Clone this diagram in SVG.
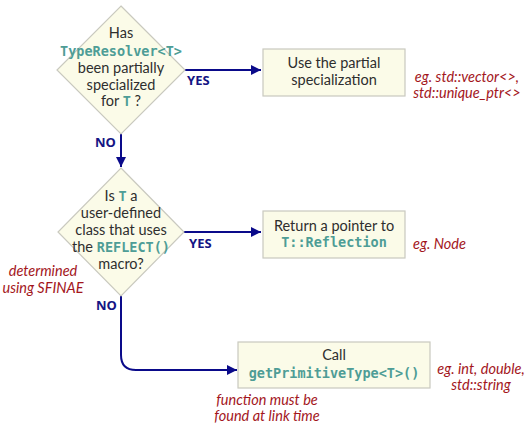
<svg xmlns="http://www.w3.org/2000/svg" width="528" height="430" viewBox="0 0 528 430">
<style>
.shape{fill:#fbfbe8;stroke:#c9c9bf;stroke-width:1.2}
.t{font-family:Lato,"Noto Sans",sans-serif;font-size:14.5px;fill:#2e2e2e;text-anchor:middle}
.c{font-family:"DejaVu Sans Mono","Liberation Mono",monospace;font-size:13.5px;font-weight:bold;fill:#4e9d96}
.lbl{font-family:"Noto Sans","Open Sans",sans-serif;font-size:13px;font-weight:bold;fill:#141484}
.note{font-family:Lato,"Noto Sans",sans-serif;font-size:14.5px;font-style:italic;fill:#a3161c;text-anchor:middle}
.edge{fill:none;stroke:#0a0a8a;stroke-width:2}
</style>
<defs>
<marker id="ah" viewBox="0 0 10 10" refX="10" refY="5" markerWidth="5" markerHeight="5" orient="auto" markerUnits="strokeWidth">
<path d="M0,0 L10,5 L0,10 z" fill="#0a0a8a"/>
</marker>
</defs>
<rect width="528" height="430" fill="#ffffff"/>
<g id="connectors">
<path class="edge" d="M185,70 H261" marker-end="url(#ah)"/>
<path class="edge" d="M121,134 V167" marker-end="url(#ah)"/>
<path class="edge" d="M184,232 H261" marker-end="url(#ah)"/>
<path class="edge" d="M121,296 V355 Q121,370 136,370 H237" marker-end="url(#ah)"/>
<text class="lbl" x="187" y="85">YES</text>
<text class="lbl" x="95" y="147">NO</text>
<text class="lbl" x="189" y="248">YES</text>
<text class="lbl" x="96" y="310">NO</text>
</g>
<g id="decision1">
<polygon class="shape" points="121,6 185,70 121,134 57,70"/>
<text class="t" x="121" y="38">Has</text>
<text class="t c" x="121" y="56">TypeResolver&lt;T&gt;</text>
<text class="t" x="121" y="73">been partially</text>
<text class="t" x="121" y="90">specialized</text>
<text class="t" x="121" y="106">for <tspan class="c">T</tspan> ?</text>
</g>
<g id="decision2">
<polygon class="shape" points="121,168 184,232 121,296 58,232"/>
<text class="t" x="121" y="201">Is <tspan class="c">T</tspan> a</text>
<text class="t" x="121" y="218">user-defined</text>
<text class="t" x="121" y="235">class that uses</text>
<text class="t" x="121" y="252">the <tspan class="c">REFLECT()</tspan></text>
<text class="t" x="121" y="269">macro?</text>
</g>
<g id="box1">
<rect class="shape" x="263" y="49" width="142" height="47"/>
<text class="t" x="334" y="68">Use the partial</text>
<text class="t" x="334" y="85">specialization</text>
</g>
<g id="box2">
<rect class="shape" x="263" y="211" width="142" height="47"/>
<text class="t" x="334" y="231">Return a pointer to</text>
<text class="t c" x="334" y="247">T::Reflection</text>
</g>
<g id="box3">
<rect class="shape" x="238" y="342" width="192" height="46"/>
<text class="t" x="334" y="360">Call</text>
<text class="t c" x="334" y="378">getPrimitiveType&lt;T&gt;()</text>
</g>
<g id="notes">
<text class="note" x="467" y="82">eg. std::vector&lt;&gt;,</text>
<text class="note" x="467" y="98">std::unique_ptr&lt;&gt;</text>
<text class="note" x="413" y="249" style="text-anchor:start">eg. Node</text>
<text class="note" x="43" y="276">determined</text>
<text class="note" x="43" y="293">using SFINAE</text>
<text class="note" x="481" y="374">eg. int, double,</text>
<text class="note" x="481" y="390">std::string</text>
<text class="note" x="267" y="405">function must be</text>
<text class="note" x="267" y="421">found at link time</text>
</g>
</svg>
